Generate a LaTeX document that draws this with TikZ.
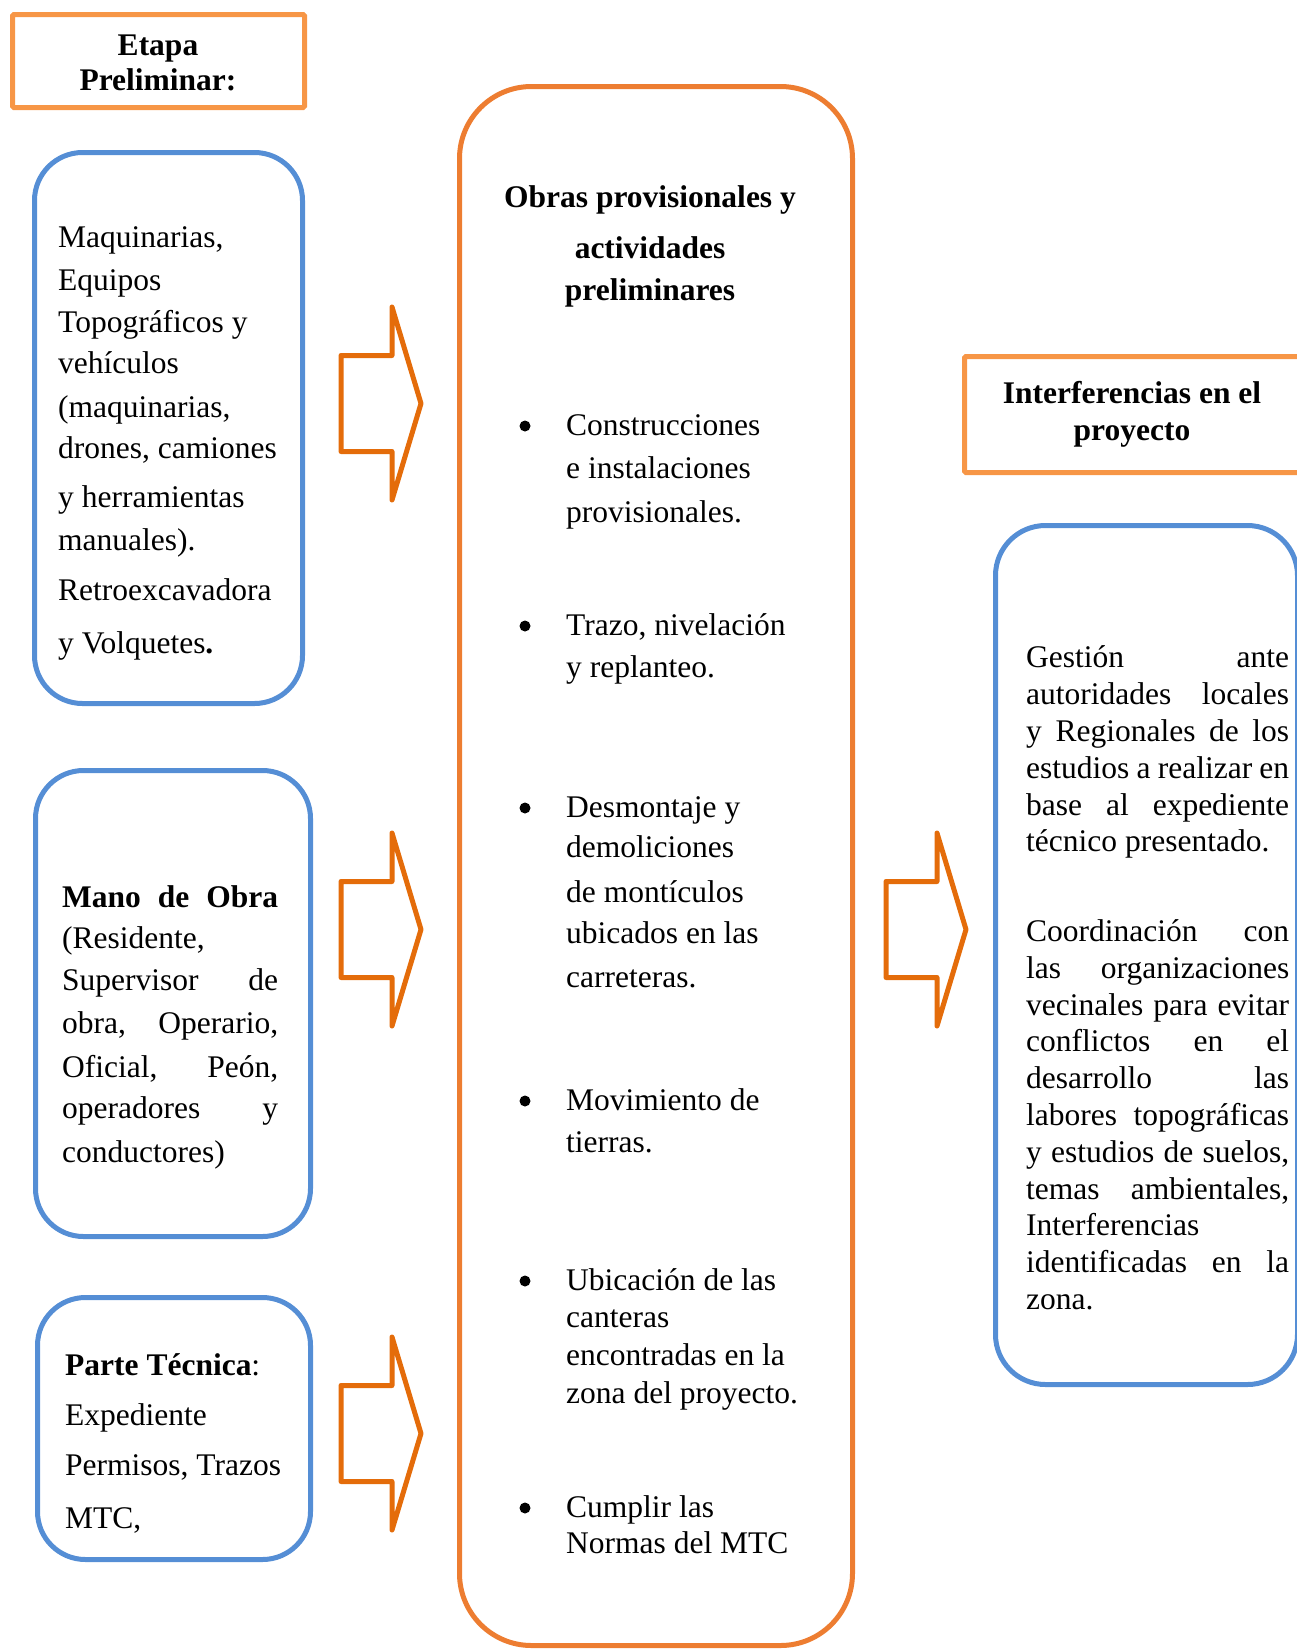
\documentclass[tikz,border=0pt]{standalone}
\usepackage{fontspec}
\setmainfont{Liberation Serif}

\definecolor{boxblue}{HTML}{558ED5}
\definecolor{lightorange}{HTML}{F79646}
\definecolor{darkorange}{HTML}{ED7D31}
\definecolor{arroworange}{HTML}{E46C0A}

% stretch a line of text to a fixed width (justified line)
\newcommand\spreadline[2]{\makebox[#1][s]{#2}}

\tikzset{
  txt/.style={anchor=base west, inner sep=0pt, font=\fontsize{31.5}{38}\selectfont},
  ctxt/.style={txt, anchor=base},
  hdr/.style={ctxt, font=\fontsize{31.5}{38}\selectfont\bfseries},
  dot/.style={circle, fill=black, inner sep=0pt, minimum size=11pt},
  framebox/.style={draw, line width=5pt, anchor=north west, inner sep=0pt, outer sep=0pt},
  bluebox/.style={framebox, draw=boxblue, rounded corners=48pt},
  titlebox/.style={framebox, draw=lightorange, rounded corners=1.5pt},
  centralbox/.style={framebox, draw=darkorange, rounded corners=72pt},
  arrowline/.style={draw=arroworange, line width=5pt, line join=round},
  blockarrow/.pic={
    \path[arrowline] (0,-48) -- (51,-48) -- (51,-96.5) -- (80,0)
      -- (51,96.5) -- (51,48) -- (0,48) -- cycle;
  }
}

\begin{document}
\begin{tikzpicture}[x=1pt,y=-1pt]
\useasboundingbox (0,0) rectangle (1297,1650);

% ---------- frames ----------
\node[titlebox, minimum width=292pt, minimum height=93pt] (etapa) at (12.5,14.5) {};
\node[bluebox, minimum width=268pt, minimum height=551pt] (maq) at (34.5,152.5) {};
\node[bluebox, minimum width=275pt, minimum height=466pt] (mano) at (35.5,770.5) {};
\node[bluebox, minimum width=273pt, minimum height=262pt] (tec) at (37.5,1297.5) {};
\node[centralbox, minimum width=393pt, minimum height=1559pt] (obras) at (459.5,86.5) {};
\node[titlebox, minimum width=350pt, minimum height=116pt] (interf) at (964.5,356.5) {};
\node[bluebox, minimum width=302pt, minimum height=859pt, rounded corners=50pt] (gest) at (995.5,525.5) {};

% ---------- block arrows ----------
\pic at (341,403.5) {blockarrow};
\pic at (341,929.5) {blockarrow};
\pic at (341,1433.5) {blockarrow};
\pic at (886,929.5) {blockarrow};

% ---------- heading: Etapa Preliminar ----------
\node[hdr] (etapa-1) at (158,55) {Etapa};
\node[hdr] (etapa-2) at (158,90) {Preliminar:};

% ---------- machinery ----------
\foreach \ytxt/\linetxt [count=\i] in {
  247/{Maquinarias,}, 290/{Equipos}, 332/{Topográficos y}, 373/{vehículos},
  417/{(maquinarias,}, 458/{drones, camiones}, 507/{y herramientas},
  550/{manuales).}, 600/{Retroexcavadora}, 653/{y Volquetes\textbf{.}}}
  \node[txt] (maq-\i) at (58,\ytxt) {\linetxt};

% ---------- labour ----------
\foreach \ytxt/\linetxt [count=\i] in {
  907/{\spreadline{216pt}{\textbf{Mano de Obra}}},
  948/{(Residente,},
  990/{\spreadline{216pt}{Supervisor de}},
  1033/{\spreadline{216pt}{obra, Operario,}},
  1077/{\spreadline{216pt}{Oficial, Peón,}},
  1118/{\spreadline{216pt}{operadores y}},
  1162/{conductores)}}
  \node[txt] (mano-\i) at (62,\ytxt) {\linetxt};

% ---------- technical part ----------
\foreach \ytxt/\linetxt [count=\i] in {
  1375/{\textbf{Parte Técnica}:}, 1425/{Expediente},
  1475/{Permisos, Trazos}, 1528/{MTC,}}
  \node[txt] (tec-\i) at (65,\ytxt) {\linetxt};

% ---------- central column ----------
\node[hdr] (obras-1) at (650,207) {Obras provisionales y};
\node[hdr] (obras-2) at (650,258) {actividades};
\node[hdr] (obras-3) at (650,300) {preliminares};

% list bullets, centred a little above each first baseline
\foreach \ytxt [count=\i] in {435,635,817,1110,1290,1517}
  \node[dot] (bullet-\i) at (525,\ytxt-9) {};

\foreach \ytxt/\linetxt [count=\i] in {
  435/{Construcciones}, 478/{e instalaciones}, 522/{provisionales.},
  635/{Trazo, nivelación}, 677/{y replanteo.},
  817/{Desmontaje y}, 857/{demoliciones}, 902/{de montículos},
  943/{ubicados en las}, 987/{carreteras.},
  1110/{Movimiento de}, 1152/{tierras.},
  1290/{Ubicación de las}, 1327/{canteras}, 1365/{encontradas en la},
  1403/{zona del proyecto.},
  1517/{Cumplir las}, 1553/{Normas del MTC}}
  \node[txt] (item-\i) at (566,\ytxt) {\linetxt};

% ---------- interferences ----------
\node[hdr] (interf-1) at (1132,403) {Interferencias en el};
\node[hdr] (interf-2) at (1132,440) {proyecto};

\foreach \ytxt/\linetxt [count=\i] in {
  667/{\spreadline{263pt}{Gestión ante}},
  704/{\spreadline{263pt}{autoridades locales}},
  741/{\spreadline{263pt}{y Regionales de los}},
  778/{\spreadline{263pt}{estudios a realizar en}},
  815/{\spreadline{263pt}{base al expediente}},
  851/{técnico presentado.},
  941/{\spreadline{263pt}{Coordinación con}},
  978/{\spreadline{263pt}{las organizaciones}},
  1015/{\spreadline{263pt}{vecinales para evitar}},
  1051/{\spreadline{263pt}{conflictos en el}},
  1088/{\spreadline{263pt}{desarrollo las}},
  1125/{\spreadline{263pt}{labores topográficas}},
  1162/{\spreadline{263pt}{y estudios de suelos,}},
  1199/{\spreadline{263pt}{temas ambientales,}},
  1235/{Interferencias},
  1272/{\spreadline{263pt}{identificadas en la}},
  1309/{zona.}}
  \node[txt] (gest-\i) at (1026,\ytxt) {\linetxt};

\end{tikzpicture}
\end{document}
